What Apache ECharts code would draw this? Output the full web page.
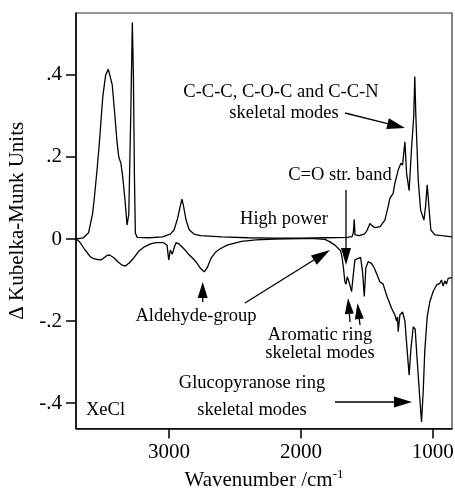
<!DOCTYPE html>
<html><head><meta charset="utf-8">
<script src="https://cdn.jsdelivr.net/npm/echarts@6/dist/echarts.min.js"></script>
<style>html,body{margin:0;padding:0;background:#fff}#c{width:455px;height:492px}</style>
</head><body><div id="c"></div>
<script>
// High power spectrum (positive)
const topWavenumbers = [3705,3650,3610,3580,3566,3545,3528,3502,3480,3460,3445,3430,3414,3395,3381,3365,3351,3335,3318,3305,3290,3278,3270,3262,3255,3240,3150,3050,2990,2962,2935,2915,2902,2890,2870,2846,2810,2760,2600,2400,2200,2000,1800,1650,1612,1603,1596,1590,1560,1520,1500,1477,1460,1440,1427,1400,1389,1364,1339,1326,1314,1301,1288,1263,1242,1230,1212,1199,1180,1161,1145,1137,1129,1111,1093,1068,1055,1043,1035,1028,1015,985,930,871,856];
const topValues = [0.000,0.003,0.015,0.060,0.100,0.170,0.234,0.347,0.400,0.414,0.410,0.375,0.315,0.240,0.200,0.185,0.152,0.100,0.034,0.060,0.300,0.528,0.400,0.150,0.014,0.004,0.003,0.005,0.012,0.022,0.050,0.080,0.097,0.080,0.045,0.022,0.012,0.008,0.005,0.003,0.002,0.002,0.003,0.004,0.006,0.015,0.048,0.010,0.008,0.012,0.020,0.038,0.032,0.028,0.026,0.030,0.030,0.046,0.079,0.099,0.095,0.111,0.136,0.168,0.185,0.180,0.237,0.160,0.118,0.225,0.300,0.396,0.300,0.144,0.071,0.046,0.080,0.132,0.100,0.070,0.022,0.010,0.008,0.006,0.005];
// Negative spectrum
const bottomWavenumbers = [3705,3680,3640,3600,3578,3540,3515,3490,3470,3452,3420,3390,3360,3331,3300,3270,3230,3187,3140,3098,3040,3015,3002,2990,2975,2960,2947,2925,2902,2870,2850,2838,2820,2790,2760,2733,2710,2682,2650,2619,2560,2517,2450,2341,2200,2000,1900,1818,1780,1742,1717,1700,1688,1678,1667,1658,1649,1636,1616,1604,1591,1566,1548,1533,1520,1508,1490,1464,1445,1427,1402,1389,1377,1351,1313,1288,1275,1268,1263,1250,1230,1212,1195,1180,1167,1149,1134,1119,1098,1086,1073,1061,1043,1023,998,972,947,935,922,909,897,884,856];
const bottomValues = [0.000,-0.006,-0.025,-0.042,-0.047,-0.050,-0.051,-0.045,-0.040,-0.039,-0.045,-0.055,-0.063,-0.066,-0.058,-0.047,-0.030,-0.019,-0.012,-0.009,-0.009,-0.015,-0.051,-0.027,-0.037,-0.020,-0.009,-0.012,-0.019,-0.030,-0.038,-0.034,-0.047,-0.058,-0.072,-0.080,-0.070,-0.047,-0.033,-0.025,-0.015,-0.011,-0.006,-0.002,0.000,0.001,0.001,-0.001,-0.007,-0.015,-0.023,-0.028,-0.045,-0.070,-0.104,-0.110,-0.092,-0.104,-0.128,-0.090,-0.051,-0.047,-0.045,-0.080,-0.140,-0.070,-0.055,-0.060,-0.070,-0.084,-0.104,-0.100,-0.110,-0.137,-0.169,-0.185,-0.200,-0.190,-0.226,-0.185,-0.178,-0.200,-0.271,-0.332,-0.270,-0.214,-0.220,-0.295,-0.393,-0.446,-0.370,-0.271,-0.190,-0.153,-0.128,-0.112,-0.108,-0.100,-0.115,-0.102,-0.110,-0.096,-0.094];
const xTickValues = [3000, 2000, 1000];
const xTickLabels = ['3000', '2000', '1000'];
const yTickValues = [-0.4, -0.2, 0, 0.2, 0.4];
const yTickLabels = ['-.4', '-.2', '0', '.2', '.4'];

const FONT = '"Liberation Serif", "Times New Roman", serif';
const chart = echarts.init(document.getElementById('c'), null, {renderer: 'canvas'});

function pairs(xs, ys) { return xs.map((x, i) => [x, ys[i]]); }
function lookup(vals, labels) {
  return function (v) { const i = vals.findIndex(t => Math.abs(t - v) < 1e-6); return i >= 0 ? labels[i] : ''; };
}

function arrow(x1, y1, x2, y2, headLen, headW) {
  const dx = x2 - x1, dy = y2 - y1, L = Math.hypot(dx, dy);
  const ux = dx / L, uy = dy / L;
  const bx = x2 - ux * headLen, by = y2 - uy * headLen;
  const px = -uy * headW / 2, py = ux * headW / 2;
  return [
    {type: 'line', z: 100, shape: {x1: x1, y1: y1, x2: bx, y2: by}, style: {stroke: '#000', lineWidth: 1.3}},
    {type: 'polygon', z: 100, shape: {points: [[x2, y2], [bx + px, by + py], [bx - px, by - py]]}, style: {fill: '#000'}}
  ];
}
function label(text, x, y, align) {
  return {type: 'text', z: 100, x: x, y: y, style: {text: text, fontFamily: FONT, fontSize: 18.5, fill: '#000', align: align || 'center', verticalAlign: 'middle'}};
}

const graphics = [].concat(
  label('C-C-C, C-O-C and C-C-N', 281, 92),
  label('skeletal modes', 284, 113),
  arrow(345, 113, 405, 128, 18, 11),
  label('C=O str. band', 340, 175),
  arrow(346, 190, 346, 265, 17, 10),
  label('High power', 284, 219),
  arrow(245, 303, 330, 250, 19, 11),
  label('Aldehyde-group', 196, 316),
  arrow(202.7, 302, 202.7, 282, 16, 10),
  label('Aromatic ring', 320, 335),
  label('skeletal modes', 320, 353),
  arrow(350, 322, 348, 298, 16, 9),
  arrow(360, 325, 357.5, 303, 16, 9),
  label('Glucopyranose ring', 252, 383),
  label('skeletal modes', 252, 410),
  arrow(335, 402, 412, 402, 18, 11),
  label('XeCl', 86, 410, 'left')
);

chart.setOption({
  animation: false,
  backgroundColor: '#fff',
  grid: {left: 76, right: 3, top: 13, bottom: 63.5, show: true, borderColor: '#333', borderWidth: 1.2, containLabel: false, outerBoundsMode: 'none'},
  xAxis: {
    type: 'value', inverse: true, min: 855, max: 3705,
    name: 'Wavenumber /cm{sup|-1}', nameLocation: 'middle', nameGap: 40,
    nameTextStyle: {fontFamily: FONT, fontSize: 21, color: '#000', rich: {sup: {fontFamily: FONT, fontSize: 13, color: '#000', padding: [0, 0, 10, 0]}}},
    axisLine: {show: true, onZero: false, lineStyle: {color: '#000', width: 1.5}},
    axisTick: {show: true, inside: false, length: 10, customValues: xTickValues, lineStyle: {color: '#000', width: 1.5}},
    axisLabel: {customValues: xTickValues, margin: 13, fontFamily: FONT, fontSize: 21, color: '#000', formatter: lookup(xTickValues, xTickLabels)},
    splitLine: {show: false}
  },
  yAxis: {
    type: 'value', min: -0.462, max: 0.551,
    name: 'Δ Kubelka-Munk Units', nameLocation: 'middle', nameRotate: 90, nameGap: 46,
    nameTextStyle: {fontFamily: FONT, fontSize: 21, color: '#000'},
    axisLine: {show: true, onZero: false, lineStyle: {color: '#000', width: 1.5}},
    axisTick: {show: true, inside: false, length: 10, customValues: yTickValues, lineStyle: {color: '#000', width: 1.5}},
    axisLabel: {customValues: yTickValues, margin: 14, fontFamily: FONT, fontSize: 21, color: '#000', formatter: lookup(yTickValues, yTickLabels)},
    splitLine: {show: false}
  },
  series: [
    {type: 'line', data: pairs(topWavenumbers, topValues), showSymbol: false, symbol: 'none', lineStyle: {color: '#000', width: 1.3}, clip: true},
    {type: 'line', data: pairs(bottomWavenumbers, bottomValues), showSymbol: false, symbol: 'none', lineStyle: {color: '#000', width: 1.3}, clip: true}
  ],
  graphic: graphics
});
</script>
</body></html>
